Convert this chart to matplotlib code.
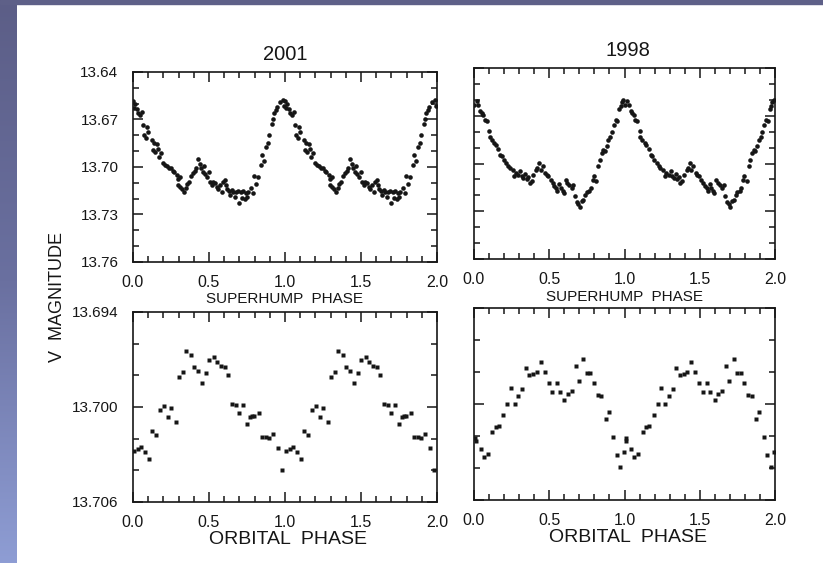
import numpy as np
import matplotlib.pyplot as plt
from matplotlib.ticker import MultipleLocator
from matplotlib.colors import LinearSegmentedColormap
from matplotlib.patches import Rectangle

# one cycle of each light curve; the plots repeat it over phase 1-2
sh2001_phase = [0.000, 0.007, 0.011, 0.024, 0.035, 0.046, 0.057, 0.064, 0.072, 0.086,
                0.090, 0.101, 0.123, 0.129, 0.138, 0.145, 0.156, 0.167, 0.173, 0.182,
                0.200, 0.213, 0.226, 0.239, 0.250, 0.261, 0.272, 0.287, 0.294, 0.298,
                0.309, 0.312, 0.320, 0.336, 0.346, 0.357, 0.371, 0.379, 0.393, 0.408,
                0.414, 0.430, 0.441, 0.447, 0.458, 0.467, 0.474, 0.489, 0.498, 0.507,
                0.518, 0.529, 0.539, 0.550, 0.561, 0.572, 0.583, 0.590, 0.605, 0.612,
                0.621, 0.634, 0.640, 0.649, 0.660, 0.668, 0.678, 0.693, 0.700, 0.708,
                0.716, 0.726, 0.735, 0.743, 0.752, 0.759, 0.774, 0.787, 0.796, 0.809,
                0.825, 0.840, 0.851, 0.862, 0.875, 0.886, 0.897, 0.912, 0.919, 0.928,
                0.939, 0.950, 0.967, 0.985, 0.993]
sh2001_mag = [13.6585, 13.6627, 13.6599, 13.6635, 13.6656, 13.6669, 13.6652, 13.6736, 13.6799, 13.6815,
              13.6746, 13.6782, 13.6830, 13.6893, 13.6851, 13.6903, 13.6857, 13.6887, 13.6935, 13.6914,
              13.6977, 13.6987, 13.6991, 13.7004, 13.7008, 13.7025, 13.7033, 13.7050, 13.7113, 13.7075,
              13.7061, 13.7124, 13.7138, 13.7155, 13.7134, 13.7109, 13.7092, 13.7054, 13.7040, 13.7025,
              13.7008, 13.6950, 13.6983, 13.7008, 13.7033, 13.6991, 13.7046, 13.7061, 13.7029, 13.7092,
              13.7113, 13.7092, 13.7103, 13.7124, 13.7138, 13.7113, 13.7160, 13.7096, 13.7082, 13.7113,
              13.7138, 13.7151, 13.7180, 13.7145, 13.7159, 13.7190, 13.7155, 13.7151, 13.7225, 13.7159,
              13.7195, 13.7151, 13.7205, 13.7166, 13.7190, 13.7155, 13.7134, 13.7166, 13.7054, 13.7109,
              13.7061, 13.6987, 13.6924, 13.6962, 13.6872, 13.6851, 13.6799, 13.6731, 13.6694, 13.6662,
              13.6641, 13.6620, 13.6589, 13.6580, 13.6614]

sh1998_phase = [0.003, 0.018, 0.029, 0.040, 0.051, 0.062, 0.073, 0.084, 0.102, 0.106,
                0.117, 0.133, 0.146, 0.162, 0.173, 0.184, 0.199, 0.213, 0.228, 0.239,
                0.257, 0.266, 0.279, 0.295, 0.306, 0.317, 0.328, 0.339, 0.350, 0.361,
                0.372, 0.383, 0.394, 0.412, 0.421, 0.434, 0.443, 0.456, 0.472, 0.483,
                0.494, 0.509, 0.523, 0.532, 0.545, 0.554, 0.567, 0.576, 0.589, 0.598,
                0.611, 0.620, 0.633, 0.649, 0.660, 0.671, 0.682, 0.693, 0.704, 0.715,
                0.726, 0.738, 0.749, 0.766, 0.775, 0.788, 0.797, 0.811, 0.826, 0.837,
                0.848, 0.859, 0.870, 0.881, 0.893, 0.904, 0.915, 0.930, 0.941, 0.952,
                0.966, 0.975, 0.983, 0.992]
sh1998_mag = [13.6631, 13.6610, 13.6631, 13.6672, 13.6683, 13.6693, 13.6725, 13.6735, 13.6798, 13.6834,
              13.6850, 13.6871, 13.6882, 13.6909, 13.6945, 13.6955, 13.6976, 13.6997, 13.7018, 13.7028,
              13.7039, 13.7081, 13.7060, 13.7070, 13.7049, 13.7081, 13.7091, 13.7064, 13.7097, 13.7085,
              13.7122, 13.7112, 13.7070, 13.7039, 13.7028, 13.6997, 13.7039, 13.7018, 13.7060, 13.7070,
              13.7081, 13.7102, 13.7122, 13.7143, 13.7154, 13.7175, 13.7127, 13.7154, 13.7175, 13.7185,
              13.7102, 13.7122, 13.7133, 13.7154, 13.7133, 13.7206, 13.7244, 13.7252, 13.7275, 13.7238,
              13.7227, 13.7196, 13.7181, 13.7175, 13.7154, 13.7102, 13.7081, 13.7112, 13.7014, 13.6976,
              13.6934, 13.6913, 13.6924, 13.6888, 13.6850, 13.6834, 13.6804, 13.6756, 13.6725, 13.6735,
              13.6658, 13.6637, 13.6616, 13.6603]

orb2001_phase = [0.004, 0.033, 0.050, 0.081, 0.103, 0.127, 0.153, 0.179, 0.201, 0.230,
                 0.252, 0.280, 0.300, 0.328, 0.350, 0.379, 0.400, 0.427, 0.453, 0.481,
                 0.503, 0.530, 0.551, 0.580, 0.606, 0.628, 0.652, 0.678, 0.700, 0.726,
                 0.751, 0.772, 0.785, 0.799, 0.832, 0.849, 0.875, 0.897, 0.923, 0.952,
                 0.978]
orb2001_mag = [13.70277, 13.70264, 13.70250, 13.70285, 13.70327, 13.70149, 13.70176, 13.70019, 13.69994, 13.70065,
               13.70008, 13.70092, 13.69813, 13.69782, 13.69645, 13.69673, 13.69746, 13.69771, 13.69851, 13.69788,
               13.69704, 13.69687, 13.69715, 13.69742, 13.69746, 13.69799, 13.69981, 13.69987, 13.70040, 13.69987,
               13.70109, 13.70061, 13.70060, 13.70057, 13.70040, 13.70191, 13.70191, 13.70193, 13.70170, 13.70256,
               13.70401]

orb1998_phase = [0.007, 0.013, 0.044, 0.066, 0.091, 0.122, 0.144, 0.166, 0.195, 0.221,
                 0.243, 0.272, 0.294, 0.321, 0.345, 0.367, 0.394, 0.416, 0.442, 0.471,
                 0.498, 0.520, 0.549, 0.571, 0.600, 0.622, 0.648, 0.675, 0.697, 0.726,
                 0.748, 0.774, 0.796, 0.821, 0.847, 0.874, 0.896, 0.925, 0.947, 0.973,
                 0.995]
orb1998_mag = [13.70214, 13.70229, 13.70283, 13.70333, 13.70314, 13.70172, 13.70145, 13.70137, 13.70066, 13.69999,
               13.69903, 13.69999, 13.69949, 13.69907, 13.69776, 13.69818, 13.69811, 13.69803, 13.69740, 13.69797,
               13.69870, 13.69922, 13.69870, 13.69922, 13.69978, 13.69937, 13.69916, 13.69765, 13.69855, 13.69717,
               13.69807, 13.69807, 13.69870, 13.69945, 13.69949, 13.70095, 13.70051, 13.70204, 13.70319, 13.70396,
               13.70298]

phase_ticks = [0.0, 0.5, 1.0, 1.5, 2.0]
phase_labels = ['0.0', '0.5', '1.0', '1.5', '2.0']
sh_ticks = [13.64, 13.67, 13.70, 13.73, 13.76]
sh_labels = ['13.64', '13.67', '13.70', '13.73', '13.76']
orb_ticks = [13.694, 13.700, 13.706]
orb_labels = ['13.694', '13.700', '13.706']

W, H = 823, 563
INK = '#161616'

plt.rcParams['font.family'] = ['Liberation Sans', 'DejaVu Sans']


def rect(left, top, right, bottom):
    # pixel box -> figure fraction
    return [left / W, 1 - bottom / H, (right - left) / W, (bottom - top) / H]


def panel(fig, box, phase, mag, yticks, ylabels, yminor, marker, ms, labelleft):
    ax = fig.add_axes(rect(*box))
    ph = np.asarray(phase)
    m = np.asarray(mag)
    ax.plot(np.concatenate([ph, ph + 1]), np.concatenate([m, m]), ls='none',
            marker=marker, ms=ms, color=INK, mec='none')
    ax.set_xlim(0, 2)
    ax.set_ylim(yticks[-1], yticks[0])
    ax.set_xticks(phase_ticks, phase_labels)
    ax.set_yticks(yticks, ylabels)
    ax.xaxis.set_minor_locator(MultipleLocator(0.1))
    ax.yaxis.set_minor_locator(MultipleLocator(yminor))
    ax.tick_params(which='both', direction='in', top=True, right=True,
                   width=1.1, color=INK, labelcolor=INK)
    ax.tick_params(which='major', length=7)
    ax.tick_params(which='minor', length=4.5)
    ax.tick_params(axis='x', pad=9.5, labelsize=11.5)
    ax.tick_params(axis='y', pad=10.5, labelsize=11, labelleft=labelleft)
    for s in ax.spines.values():
        s.set_linewidth(1.2)
        s.set_color(INK)
    return ax


fig = plt.figure(figsize=(W / 100, H / 100), dpi=100)
fig.patch.set_facecolor('white')

# slide background edges
strip = fig.add_axes([0, 0, 17 / W, 1])
cmap = LinearSegmentedColormap.from_list('slide', ['#5c5e87', '#6a70a0', '#8e9dd4'])
strip.imshow(np.linspace(0, 1, 256).reshape(-1, 1), aspect='auto', cmap=cmap,
             extent=[0, 1, 0, 1], origin='upper')
strip.axis('off')
fig.patches.append(Rectangle((0, 1 - 4 / H), 1, 4 / H, transform=fig.transFigure,
                             color='#5e6088', zorder=0))

panel(fig, (133, 72, 437, 262), sh2001_phase, sh2001_mag, sh_ticks, sh_labels, 0.01, 'o', 3.3, True)
panel(fig, (474, 68, 775, 259), sh1998_phase, sh1998_mag, sh_ticks, sh_labels, 0.01, 'o', 3.3, False)
panel(fig, (133, 312, 437, 502), orb2001_phase, orb2001_mag, orb_ticks, orb_labels, 0.002, 's', 3.4, True)
panel(fig, (474, 308, 775, 500), orb1998_phase, orb1998_mag, orb_ticks, orb_labels, 0.002, 's', 3.4, False)

fig.text(285 / W, 1 - 55 / H, '2001', ha='center', va='center', fontsize=14.5, color=INK)
fig.text(628 / W, 1 - 51 / H, '1998', ha='center', va='center', fontsize=14.5, color=INK)
fig.text(285 / W, 1 - 299 / H, 'SUPERHUMP  PHASE', ha='center', va='center',
         fontsize=11, color=INK)
fig.text(625 / W, 1 - 297 / H, 'SUPERHUMP  PHASE', ha='center', va='center',
         fontsize=11, color=INK)
fig.text(288 / W, 1 - 540 / H, 'ORBITAL  PHASE', ha='center', va='center',
         fontsize=14, color=INK)
fig.text(628 / W, 1 - 538 / H, 'ORBITAL  PHASE', ha='center', va='center',
         fontsize=14, color=INK)
fig.text(57 / W, 1 - 297 / H, 'V  MAGNITUDE', ha='center', va='center', rotation=90,
         fontsize=13, color=INK)

fig.savefig('out.png', dpi=100, facecolor=fig.get_facecolor())
